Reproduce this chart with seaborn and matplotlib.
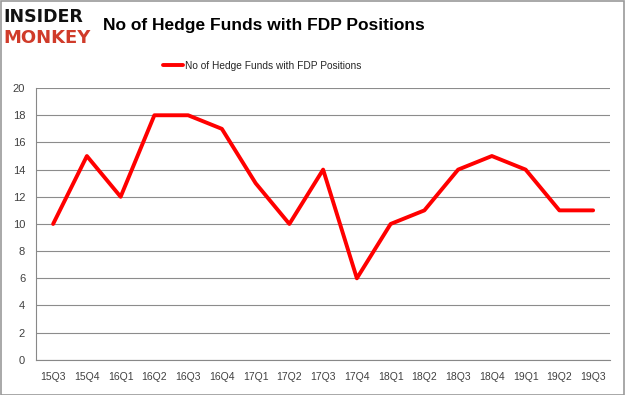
import matplotlib
matplotlib.use("Agg")
import matplotlib.pyplot as plt
import seaborn as sns
import pandas as pd
import numpy as np
from matplotlib.patches import Rectangle

quarters = ["15Q3", "15Q4", "16Q1", "16Q2", "16Q3", "16Q4", "17Q1", "17Q2", "17Q3",
            "17Q4", "18Q1", "18Q2", "18Q3", "18Q4", "19Q1", "19Q2", "19Q3"]
funds = [10, 15, 12, 18, 18, 17, 13, 10, 14, 6, 10, 11, 14, 15, 14, 11, 11]
series_name = "No of Hedge Funds with FDP Positions"


def main():
    sns.set_theme(style="white")
    plt.rcParams["font.family"] = ["Liberation Sans", "DejaVu Sans"]

    df = pd.DataFrame({"quarter": quarters, "funds": funds, "series": series_name})
    df["pos"] = np.arange(len(quarters))

    fig = plt.figure(figsize=(6.25, 3.95), dpi=100)
    ax = fig.add_axes([0.058, 0.089, 0.918, 0.688])

    sns.lineplot(data=df, x="pos", y="funds", hue="series", palette=["#ff0000"],
                 linewidth=2.8, ax=ax)

    ax.set_xlim(-0.5, len(quarters) - 0.5)
    ax.set_ylim(0, 20)
    ax.set_yticks(range(0, 21, 2))
    ax.set_xticks(range(len(quarters)))
    ax.set_xticklabels(quarters)
    ax.set_xticks(np.arange(-0.5, len(quarters), 1), minor=True)
    ax.tick_params(axis="x", which="major", length=0, pad=9, labelsize=7.5, colors="#404040")
    ax.tick_params(axis="x", which="minor", length=4, color="#888888", width=0.8)
    ax.tick_params(axis="y", length=4, color="#888888", width=0.8, labelsize=8,
                   colors="#404040", pad=4)
    ax.yaxis.grid(True, color="#8c8c8c", linewidth=0.8)
    ax.set_xlabel("")
    ax.set_ylabel("")
    for side in ["top", "right"]:
        ax.spines[side].set_visible(False)
    for side in ["left", "bottom"]:
        ax.spines[side].set_color("#888888")
        ax.spines[side].set_linewidth(0.8)

    ax.legend(loc="lower center", bbox_to_anchor=(0.394, 1.03), frameon=False,
              fontsize=7.3, handlelength=2.0, handletextpad=0.2)

    fig.text(0.165, 0.935, "No of Hedge Funds with FDP Positions", fontsize=12.5,
             fontweight="bold", va="center", ha="left", color="black")

    fig.text(0.006, 0.957, "INSIDER", fontsize=12.5, fontweight="bold", va="center",
             ha="left", color="#111111", family="DejaVu Sans")
    fig.text(0.006, 0.905, "MONKEY", fontsize=13, fontweight="bold", va="center",
             ha="left", color="#d03b2a", family="DejaVu Sans")

    fig.patches.append(Rectangle((0.001, 0.001), 0.997, 0.997, transform=fig.transFigure,
                                 fill=False, edgecolor="#999999", linewidth=1.2))

    fig.savefig("out.png", dpi=100)
    plt.close(fig)


if __name__ == "__main__":
    main()
